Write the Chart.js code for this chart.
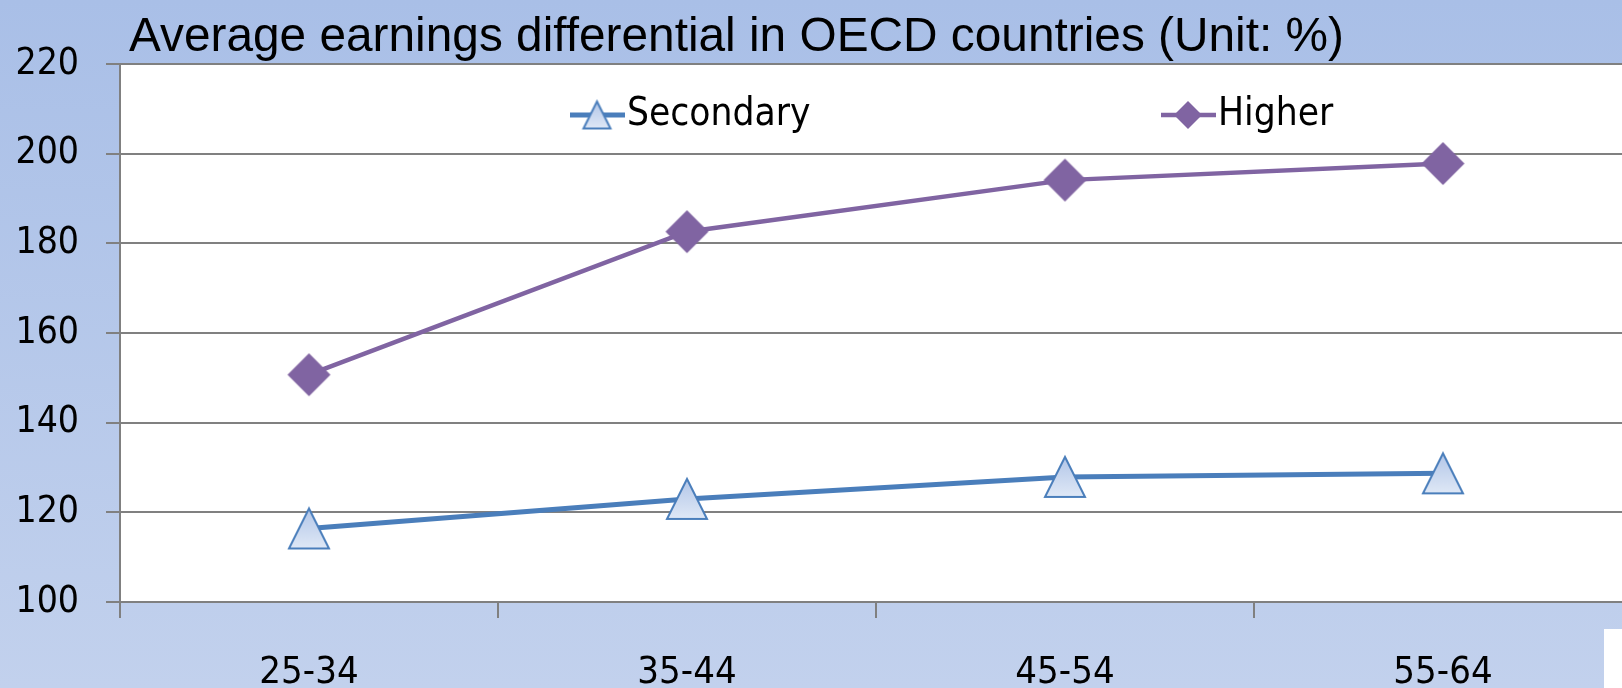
<!DOCTYPE html>
<html>
<head>
  <meta charset="utf-8">
  <title>Average earnings differential in OECD countries</title>
  <script src="https://cdn.jsdelivr.net/npm/chart.js"></script>
  <style>
    html, body {
      margin: 0;
      padding: 0;
      width: 1622px;
      height: 688px;
      overflow: hidden;
    }
    body {
      position: relative;
      background: linear-gradient(#a9bfe7, #c2d1ed);
      font-family: 'Liberation Sans', Arial, sans-serif;
    }
    #title {
      position: absolute;
      left: 129px;
      top: 11px;
      font-size: 47.8px;
      line-height: 1;
      color: #000;
      white-space: nowrap;
    }
    #chart {
      position: absolute;
      left: 0;
      top: 0;
    }
    #patch {
      position: absolute;
      left: 1604px;
      top: 629px;
      width: 18px;
      height: 59px;
      background: #fff;
    }
  </style>
</head>
<body>

  <canvas id="chart" width="1657" height="688"></canvas>
  <div id="title">Average earnings differential in OECD countries (Unit: %)</div>
  <div id="patch"></div>

  <script>
    // data
    const ageGroups = ['25-34', '35-44', '45-54', '55-64'];
    const secondary = [116.4, 123.0, 127.9, 128.7];
    const higher = [150.7, 182.6, 194.1, 197.8];
    const seriesNames = ['Secondary', 'Higher'];
    const yTicks = { min: 100, max: 220, step: 20 };

    const tickFont = "'DejaVu Sans Condensed', 'Liberation Sans Narrow', sans-serif";
    const blue = '#4a7ebb';
    const purple = '#8064a2';
    const gridGray = '#808080';

    // marker images (triangle with light gradient, solid diamond)
    function triangle(size) {
      const c = document.createElement('canvas');
      c.width = size + 6; c.height = size + 6;
      const g = c.getContext('2d');
      const grad = g.createLinearGradient(0, 3, 0, size + 3);
      grad.addColorStop(0, '#b2c6e8');
      grad.addColorStop(1, '#dfe8f6');
      g.beginPath();
      g.moveTo(3 + size / 2, 3);
      g.lineTo(3 + size, 3 + size);
      g.lineTo(3, 3 + size);
      g.closePath();
      g.fillStyle = grad;
      g.fill();
      g.lineWidth = 2;
      g.strokeStyle = blue;
      g.stroke();
      return c;
    }

    function diamond(size) {
      const c = document.createElement('canvas');
      c.width = size + 2; c.height = size + 2;
      const g = c.getContext('2d');
      const m = 1 + size / 2;
      g.beginPath();
      g.moveTo(m, 1);
      g.lineTo(1 + size, m);
      g.lineTo(m, 1 + size);
      g.lineTo(1, m);
      g.closePath();
      g.fillStyle = purple;
      g.fill();
      return c;
    }

    const markers = [triangle(40), diamond(43)];
    const legendMarkers = [triangle(27), diamond(28)];

    // white plot background
    const plotBg = {
      id: 'plotBg',
      beforeDraw(chart) {
        const a = chart.chartArea;
        const ctx = chart.ctx;
        ctx.save();
        ctx.fillStyle = '#fff';
        ctx.fillRect(a.left, a.top, a.right - a.left, a.bottom - a.top);
        ctx.restore();
      }
    };

    // legend sitting inside the plot, items spread like the original
    const legendStarts = [570, 1161];
    const innerLegend = {
      id: 'innerLegend',
      afterDatasetsDraw(chart) {
        const ctx = chart.ctx;
        const y = chart.chartArea.top + 51;
        ctx.save();
        chart.data.datasets.forEach((ds, i) => {
          const x0 = legendStarts[i];
          ctx.strokeStyle = ds.borderColor;
          ctx.lineWidth = ds.borderWidth;
          ctx.beginPath();
          ctx.moveTo(x0, y);
          ctx.lineTo(x0 + 55, y);
          ctx.stroke();
          const m = legendMarkers[i];
          ctx.drawImage(m, x0 + 27 - m.width / 2, y - m.height / 2);
          ctx.fillStyle = '#000';
          ctx.font = '38.5px ' + tickFont;
          ctx.textBaseline = 'middle';
          ctx.fillText(ds.label, x0 + 57, y);
        });
        ctx.restore();
      }
    };

    const ctx = document.getElementById('chart').getContext('2d');
    new Chart(ctx, {
      type: 'line',
      data: {
        labels: ageGroups,
        datasets: [
          {
            label: seriesNames[0],
            data: secondary,
            borderColor: blue,
            borderWidth: 5,
            pointStyle: markers[0],
            pointRadius: 20,
            tension: 0
          },
          {
            label: seriesNames[1],
            data: higher,
            borderColor: purple,
            borderWidth: 4.5,
            pointStyle: markers[1],
            pointRadius: 20,
            tension: 0
          }
        ]
      },
      options: {
        responsive: false,
        animation: false,
        devicePixelRatio: 1,
        layout: { padding: { top: 64, left: 0, right: 0, bottom: 0 } },
        plugins: {
          legend: { display: false },
          tooltip: { enabled: false }
        },
        scales: {
          x: {
            offset: true,
            grid: { offset: true, drawOnChartArea: false, tickLength: 16, color: gridGray, lineWidth: 2 },
            border: { color: gridGray, width: 2 },
            ticks: { font: { family: tickFont, size: 38, lineHeight: 1 }, color: '#000', padding: 36 },
            afterFit(s) { s.height = 86; }
          },
          y: {
            min: yTicks.min,
            max: yTicks.max,
            ticks: { stepSize: yTicks.step, font: { family: tickFont, size: 37 }, color: '#000', padding: 27 },
            grid: { color: gridGray, lineWidth: 2, tickLength: 14 },
            border: { color: gridGray, width: 2 },
            afterFit(s) { s.width = 120; }
          }
        }
      },
      plugins: [plotBg, innerLegend]
    });
  </script>
</body>
</html>
